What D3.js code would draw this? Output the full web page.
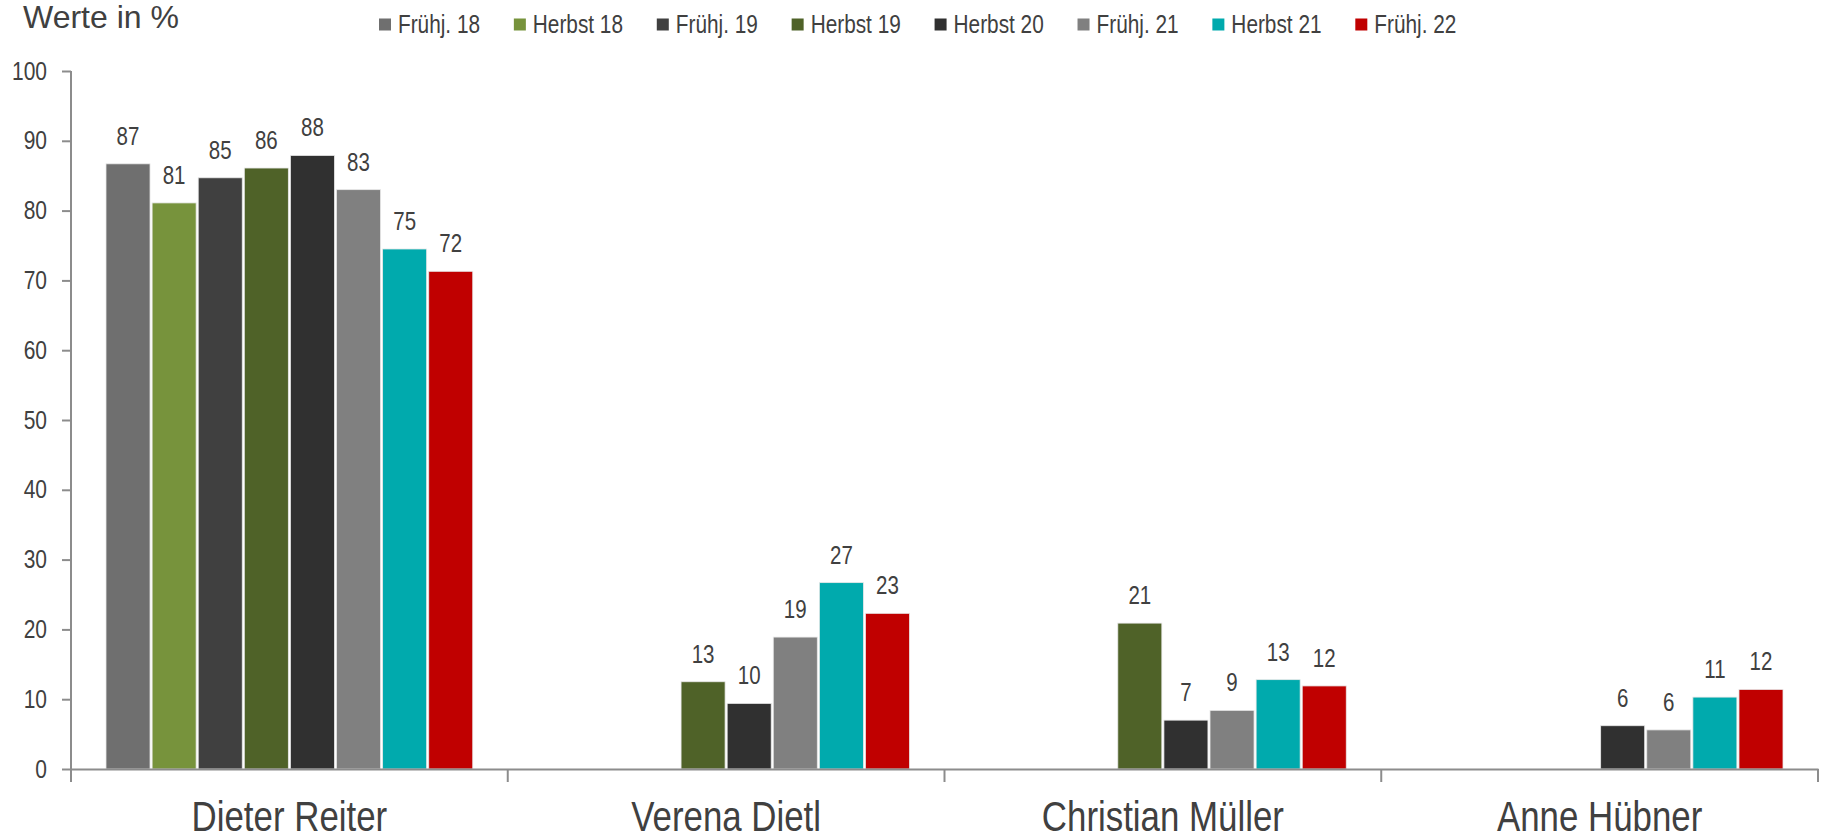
<!DOCTYPE html>
<html>
<head>
<meta charset="utf-8">
<script src="https://cdn.jsdelivr.net/npm/d3@7"></script>
<style>
  html, body { margin: 0; padding: 0; background: #fff; }
  svg { display: block; }
  text { fill: #404040; }
</style>
</head>
<body>
<svg id="chart" width="1825" height="840"></svg>
<script>
// ---- data ----
const categories = ["Dieter Reiter", "Verena Dietl", "Christian Müller", "Anne Hübner"];
const seriesNames = ["Frühj. 18", "Herbst 18", "Frühj. 19", "Herbst 19", "Herbst 20", "Frühj. 21", "Herbst 21", "Frühj. 22"];
const seriesColors = ["#6f6f6f", "#77933c", "#404040", "#4f6228", "#303030", "#808080", "#00aaad", "#c00000"];
// bar heights per candidate, one entry per series (null = no bar)
const valuesReiter    = [86.7, 81.1, 84.7, 86.1, 87.9, 83.0, 74.5, 71.3];
const valuesDietl     = [null, null, null, 12.5, 9.4, 18.9, 26.7, 22.3];
const valuesMueller   = [null, null, null, 20.9, 7.0, 8.4, 12.8, 11.9];
const valuesHuebner   = [null, null, null, null, 6.2, 5.6, 10.3, 11.4];
// printed data labels
const labelsReiter    = ["87", "81", "85", "86", "88", "83", "75", "72"];
const labelsDietl     = [null, null, null, "13", "10", "19", "27", "23"];
const labelsMueller   = [null, null, null, "21", "7", "9", "13", "12"];
const labelsHuebner   = [null, null, null, null, "6", "6", "11", "12"];
const yTicks = [0, 10, 20, 30, 40, 50, 60, 70, 80, 90, 100];
const yTitle = "Werte in %";

const valueRows = [valuesReiter, valuesDietl, valuesMueller, valuesHuebner];
const labelRows = [labelsReiter, labelsDietl, labelsMueller, labelsHuebner];

// ---- layout ----
const FONT = "'Liberation Sans', Arial, sans-serif";
const NARROW_X = 0.82;          // condensed look of the original typeface
const axisColor = "#8c8c8c";
const textColor = "#404040";
const plotLeft = 71, plotRight = 1818, plotTop = 71, plotBottom = 769;

const svg = d3.select("#chart");

// helper: place condensed text at (x,y)
function narrow(sel, fx, fy, sx = NARROW_X) {
  return sel.attr("x", 0).attr("y", 0)
    .attr("transform", (d, i) => `translate(${fx(d, i)},${fy(d, i)}) scale(${sx},1)`)
    .attr("font-family", FONT).attr("fill", textColor);
}

const x0 = d3.scaleBand().domain(categories).range([plotLeft, plotRight]).padding(0);
const groupPad = 35;
const x1 = d3.scaleBand().domain(seriesNames)
  .range([groupPad, x0.bandwidth() - groupPad]).paddingInner(0.045).paddingOuter(0);
const y = d3.scaleLinear().domain([0, 100]).range([plotBottom, plotTop]);

// y axis
const yAxis = d3.axisLeft(y).tickValues(yTicks).tickSize(9).tickFormat(d3.format("d"));
const gy = svg.append("g").attr("transform", `translate(${plotLeft},0)`).call(yAxis);
gy.select(".domain").remove();
gy.selectAll(".tick line").attr("stroke", axisColor).attr("stroke-width", 2);
gy.selectAll(".tick text")
  .attr("x", 0).attr("dy", "0.32em")
  .attr("transform", `translate(-24,0) scale(0.84,1)`)
  .attr("text-anchor", "end")
  .attr("font-family", FONT).attr("font-size", 25).attr("fill", textColor);
svg.append("line").attr("x1", plotLeft).attr("x2", plotLeft).attr("y1", y(100)).attr("y2", plotBottom + 13)
  .attr("stroke", axisColor).attr("stroke-width", 2);

// bars
const groups = svg.append("g").selectAll("g")
  .data(categories.map((c, i) => ({ c, vals: valueRows[i], labs: labelRows[i] })))
  .join("g")
  .attr("transform", d => `translate(${x0(d.c)},0)`);

groups.selectAll("rect")
  .data(d => seriesNames.map((s, j) => ({ s, v: d.vals[j], color: seriesColors[j] })).filter(e => e.v != null))
  .join("rect")
  .attr("x", e => x1(e.s))
  .attr("width", x1.bandwidth())
  .attr("y", e => y(e.v))
  .attr("height", e => y(0) - y(e.v))
  .attr("fill", e => e.color)
  .attr("stroke", "#e8e8e8")
  .attr("stroke-width", 0.8);

narrow(
  groups.selectAll("text")
    .data(d => seriesNames.map((s, j) => ({ s, v: d.vals[j], lab: d.labs[j] })).filter(e => e.v != null))
    .join("text"),
  e => x1(e.s) + x1.bandwidth() / 2,
  e => y(e.v) - 19)
  .attr("text-anchor", "middle")
  .attr("font-size", 25)
  .text(e => e.lab);

// x axis
const xAxis = d3.axisBottom(x0).tickSize(0).tickFormat("");
const gx = svg.append("g").attr("transform", `translate(0,${plotBottom})`).call(xAxis);
gx.selectAll(".tick").remove();
gx.select(".domain").attr("stroke", axisColor).attr("stroke-width", 2);
// category separators
const bounds = categories.map(c => x0(c)).concat([plotRight]);
svg.append("g").selectAll("line").data(bounds.slice(1)).join("line")
  .attr("x1", d => d).attr("x2", d => d)
  .attr("y1", plotBottom).attr("y2", plotBottom + 13)
  .attr("stroke", axisColor).attr("stroke-width", 2);
// category labels
narrow(
  svg.append("g").selectAll("text").data(categories).join("text"),
  c => x0(c) + x0.bandwidth() / 2,
  () => 830.5, 0.83)
  .attr("text-anchor", "middle")
  .attr("font-size", 42)
  .text(c => c);

// title
svg.append("text").attr("x", 23).attr("y", 28)
  .attr("font-family", FONT).attr("font-size", 32).attr("fill", textColor)
  .text(yTitle);

// legend
const legend = svg.append("g");
let lx = 379;
seriesNames.forEach((s, j) => {
  const g = legend.append("g").attr("transform", `translate(${lx},0)`);
  g.append("rect").attr("x", 0).attr("y", 18.5).attr("width", 12).attr("height", 12).attr("fill", seriesColors[j]);
  const t = g.append("text")
    .attr("transform", `translate(19,33) scale(0.8,1)`)
    .attr("font-family", FONT).attr("font-size", 26).attr("fill", textColor).text(s);
  const w = t.node().getComputedTextLength() * 0.8;
  lx += 19 + w + 33.8;
});
</script>
</body>
</html>
